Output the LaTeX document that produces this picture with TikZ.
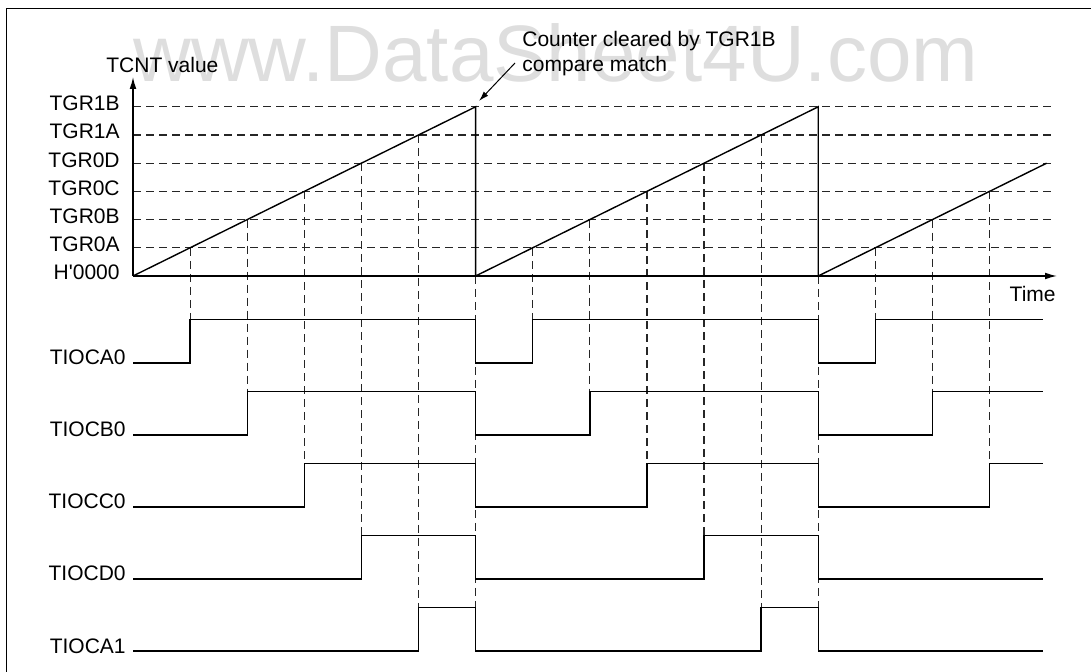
\documentclass[tikz,border=0pt]{standalone}
\usepackage{fontspec}
\setmainfont{Liberation Sans}
\usetikzlibrary{arrows.meta}

\begin{document}
\begin{tikzpicture}[x={(0.5pt,0)},y={(0,-0.5pt)},
    font=\fontsize{10.5}{12.5}\selectfont,
    lvl/.style={anchor=base east, inner sep=0pt},
    guide/.style={black!85, line width=0.6pt, dash pattern=on 4pt off 2.5pt},
    axis/.style={line width=0.7pt, -{Latex[length=6pt,width=3.4pt]}},
    wave/.style={line width=0.7pt},
    pointer/.style={line width=0.5pt, -{Latex[length=5pt,width=3pt]}}]
        \useasboundingbox (0,0) rectangle (1091,672);
        \node(wm) at (133,82) [anchor=base west, inner sep=0pt, text=black!13, font=\fontsize{40}{40}\selectfont]{www.DataSheet4U.com};
        \draw[line width=0.5pt] (6,672) -- (6,9) -- (1091,9);

        % counter levels
        \node(n0) at (120,280) [lvl]{H\textquotesingle 0000};
        \foreach \name [count=\k] in {TGR0A,TGR0B,TGR0C,TGR0D,TGR1A,TGR1B} {
          \coordinate (L\k) at (133,276-28.2*\k);
          \coordinate (R\k) at (1052,276-28.2*\k);
          \node(n\k) at (120,280-28.2*\k) [lvl]{\name};
          \draw[guide] (L\k) -- (R\k);
        }

        % compare match drop lines
        \foreach \k in {1,...,5}
          \foreach \c in {0,1} {
            \draw[guide] (133+342.6*\c+57.1*\k,276-28.2*\k) -- (133+342.6*\c+57.1*\k,319.5+72*\k-72);
          }
        \foreach \k in {1,2,3}
          \draw[guide] (818.2+57.1*\k,276-28.2*\k) -- (818.2+57.1*\k,319.5+72*\k-72);
        \coordinate (C1) at (475.6,276);
        \coordinate (C2) at (818.2,276);
        \coordinate (D1) at (475.6,607.5);
        \coordinate (D2) at (818.2,607.5);
        \draw[guide] (C1) -- (D1);
        \draw[guide] (C2) -- (D2);

        % axes
        \coordinate (O) at (133,276);
        \coordinate (ytop) at (133,77);
        \coordinate (xtip) at (1057,276);
        \draw[axis] (O) -- (ytop);
        \draw[axis] (O) -- (xtip);
        \node(yl) at (106,73) [anchor=base west, inner sep=0pt]{TCNT value};
        \node(tl) at (1056,302) [anchor=base east, inner sep=0pt]{Time};

        % TCNT ramp
        \coordinate (T1) at (475.6,106.8);
        \coordinate (T2) at (818.2,106.8);
        \coordinate (E) at (1046.6,163.2);
        \draw[wave] (O) -- (T1) -- (C1) -- (T2) -- (C2) -- (E);

        % annotation
        \node(note1) at (522,46.5) [anchor=base west, inner sep=0pt]{Counter cleared by TGR1B};
        \node(note2) at (522,71.5) [anchor=base west, inner sep=0pt]{compare match};
        \coordinate (tail) at (515,63);
        \coordinate (tip) at (479,101);
        \draw[pointer] (tail) -- (tip);

        % output waveforms
        \foreach \lab [count=\i] in {TIOCA0,TIOCB0,TIOCC0,TIOCD0,TIOCA1} {
          \pgfmathsetmacro\lo{363+72*(\i-1)}
          \pgfmathsetmacro\hi{\lo-43.5}
          \pgfmathsetmacro\xa{133+57.1*\i}
          \pgfmathsetmacro\xb{475.6+57.1*\i}
          \pgfmathsetmacro\xc{818.2+57.1*\i}
          \node(s\i) at (126,\lo+2) [lvl]{\lab};
          \ifnum\i<4
            \draw[wave] (133,\lo) -| (\xa,\hi) -| (475.6,\lo) -| (\xb,\hi) -| (818.2,\lo) -| (\xc,\hi) -- (1043,\hi);
          \else
            \draw[wave] (133,\lo) -| (\xa,\hi) -| (475.6,\lo) -| (\xb,\hi) -| (818.2,\lo) -- (1043,\lo);
          \fi
        }

      \end{tikzpicture}
\end{document}
